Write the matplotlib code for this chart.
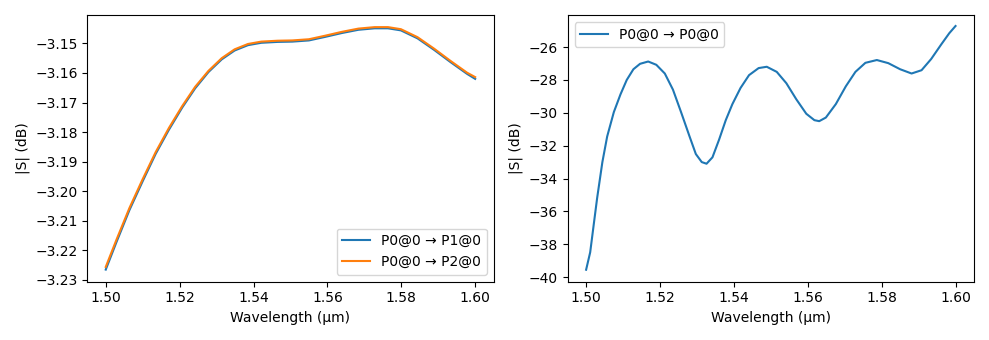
import matplotlib
matplotlib.use("Agg")
import matplotlib.pyplot as plt
from matplotlib.ticker import MultipleLocator

# transmission, left panel
wl = [1.5000, 1.5029, 1.5064, 1.5100, 1.5135, 1.5171, 1.5207, 1.5242, 1.5278,
      1.5314, 1.5349, 1.5385, 1.5421, 1.5465, 1.5505, 1.5550, 1.5594, 1.5639,
      1.5684, 1.5728, 1.5764, 1.5799, 1.5844, 1.5889, 1.5933, 1.5978, 1.6000]
s21 = [-3.2265, -3.2172, -3.2064, -3.1966, -3.1874, -3.1792, -3.1717, -3.1652,
       -3.1597, -3.1554, -3.1524, -3.1506, -3.1498, -3.1495, -3.1494, -3.1490,
       -3.1478, -3.1465, -3.1454, -3.1449, -3.1449, -3.1456, -3.1483, -3.1522,
       -3.1563, -3.1603, -3.1620]
s31 = [-3.2256, -3.2164, -3.2057, -3.1959, -3.1868, -3.1786, -3.1712, -3.1647,
       -3.1593, -3.1550, -3.1520, -3.1502, -3.1494, -3.1491, -3.1490, -3.1486,
       -3.1474, -3.1461, -3.1450, -3.1445, -3.1445, -3.1452, -3.1479, -3.1518,
       -3.1559, -3.1599, -3.1614]

# reflection, right panel
wl_r = [1.5000, 1.5011, 1.5021, 1.5030, 1.5044, 1.5057, 1.5075, 1.5093, 1.5110,
        1.5128, 1.5146, 1.5168, 1.5190, 1.5213, 1.5235, 1.5257, 1.5280, 1.5297,
        1.5313, 1.5326, 1.5342, 1.5360, 1.5378, 1.5396, 1.5418, 1.5441, 1.5467,
        1.5489, 1.5516, 1.5542, 1.5569, 1.5596, 1.5618, 1.5631, 1.5649, 1.5676,
        1.5703, 1.5729, 1.5756, 1.5787, 1.5818, 1.5850, 1.5881, 1.5908, 1.5934,
        1.5961, 1.5983, 1.6000]
s11 = [-39.55, -38.49, -36.73, -35.16, -33.00, -31.44, -29.96, -28.88, -28.00,
       -27.35, -27.02, -26.88, -27.08, -27.61, -28.59, -29.96, -31.44, -32.51,
       -33.00, -33.10, -32.71, -31.63, -30.45, -29.47, -28.49, -27.71, -27.28,
       -27.20, -27.51, -28.20, -29.18, -30.06, -30.45, -30.51, -30.29, -29.47,
       -28.39, -27.51, -26.96, -26.79, -26.98, -27.35, -27.61, -27.41, -26.73,
       -25.85, -25.16, -24.72]

fig, axs = plt.subplots(1, 2, figsize=(9.89, 3.4), dpi=100)

axs[0].plot(wl, s21, label="P0@0 → P1@0")
axs[0].plot(wl, s31, label="P0@0 → P2@0")
axs[0].yaxis.set_major_locator(MultipleLocator(0.01))
axs[0].set_xlabel("Wavelength (µm)")
axs[0].set_ylabel("|S| (dB)")
axs[0].legend(loc="lower right")

axs[1].plot(wl_r, s11, label="P0@0 → P0@0")
axs[1].set_ylim(-40.28, -24.05)
axs[1].set_xlabel("Wavelength (µm)")
axs[1].set_ylabel("|S| (dB)")
axs[1].legend(loc="upper left")

plt.tight_layout()
plt.savefig("out.png")
